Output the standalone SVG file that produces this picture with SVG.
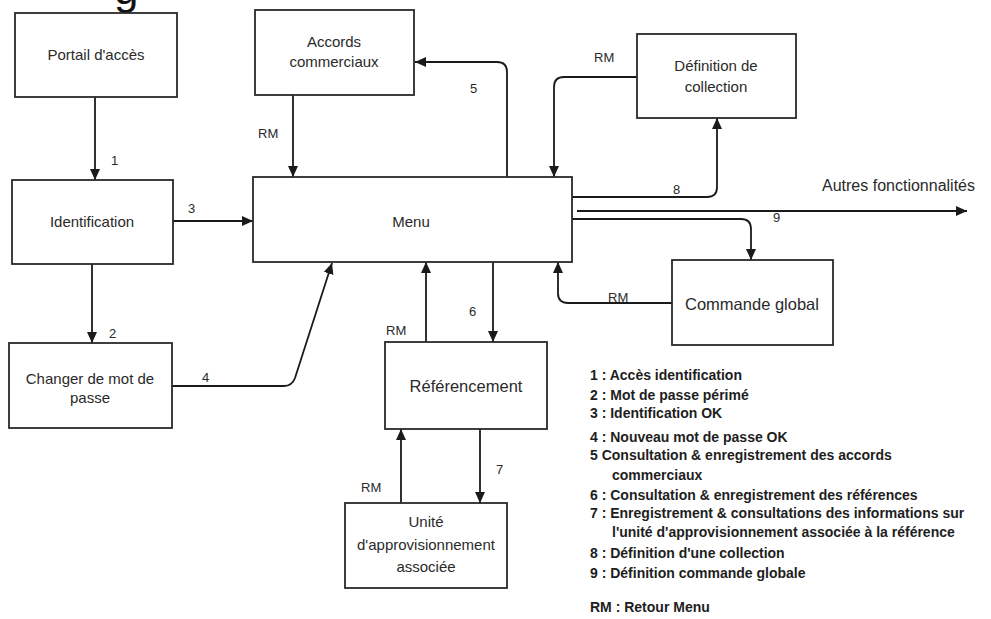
<svg xmlns="http://www.w3.org/2000/svg" width="991" height="619" viewBox="0 0 991 619">
<style>
.box{fill:#fff;stroke:#2a2a2a;stroke-width:1.8}
.t{font-family:"Liberation Sans",Arial,sans-serif;font-size:15px;fill:#2a2a2a;text-anchor:middle}
.lbl{font-family:"Liberation Sans",Arial,sans-serif;font-size:13px;fill:#2a2a2a}
.leg{font-family:"Liberation Sans",Arial,sans-serif;font-size:14px;font-weight:bold;fill:#1e1e1e}
.c{fill:none;stroke:#1a1a1a;stroke-width:1.8;marker-end:url(#ah)}
</style>
<defs>
<marker id="ah" markerUnits="userSpaceOnUse" markerWidth="12" markerHeight="12" refX="11" refY="5" orient="auto">
<path d="M0,0 L11,5 L0,10 z" fill="#1a1a1a"/>
</marker>
</defs>
<rect width="991" height="619" fill="#fff"/>
<text x="114" y="4" style="font-family:'Liberation Sans',Arial,sans-serif;font-size:44px;fill:#111">g</text>

<g id="connectors">
<path class="c" d="M95,97 V180"/>
<path class="c" d="M173,221 H253"/>
<path class="c" d="M92,264 V343"/>
<path class="c" d="M172,386 H284 Q292,386 295,378 L332,263"/>
<path class="c" d="M293,95 V177"/>
<path class="c" d="M507,177 V72 Q507,62 497,62 H415"/>
<path class="c" d="M637,77 H564 Q554,77 554,87 V177"/>
<path class="c" d="M572,197 H707 Q717,197 717,187 V118"/>
<path class="c" d="M577,211 H967"/>
<path class="c" d="M572,219 H741 Q751,219 751,229 V260"/>
<path class="c" d="M672,303 H568 Q558,303 558,293 V262"/>
<path class="c" d="M426,342 V262"/>
<path class="c" d="M493,262 V342"/>
<path class="c" d="M401,503 V429"/>
<path class="c" d="M480,429 V503"/>
</g>

<g id="portail"><rect class="box" x="15" y="13" width="162" height="84"/><text class="t" x="96" y="60">Portail d'accès</text></g>
<g id="identification"><rect class="box" x="12" y="180" width="161" height="84"/><text class="t" x="92" y="227">Identification</text></g>
<g id="changer"><rect class="box" x="9" y="343" width="163" height="85"/><text class="t" x="90" y="384">Changer de mot de</text><text class="t" x="90" y="403">passe</text></g>
<g id="accords"><rect class="box" x="255" y="10" width="159" height="85"/><text class="t" x="334" y="47">Accords</text><text class="t" x="334" y="67">commerciaux</text></g>
<g id="menu"><rect class="box" x="253" y="177" width="319" height="85"/><text class="t" x="411" y="227">Menu</text></g>
<g id="definition"><rect class="box" x="637" y="34" width="159" height="84"/><text class="t" x="716" y="71">Définition de</text><text class="t" x="716" y="92">collection</text></g>
<g id="commande"><rect class="box" x="672" y="260" width="161" height="85"/><text class="t" x="752" y="310" style="font-size:16.5px">Commande global</text></g>
<g id="referencement"><rect class="box" x="385" y="342" width="162" height="87"/><text class="t" x="466" y="392" style="font-size:16.5px">Référencement</text></g>
<g id="unite"><rect class="box" x="345" y="503" width="162" height="85"/><text class="t" x="426" y="527">Unité</text><text class="t" x="426" y="550">d'approvisionnement</text><text class="t" x="426" y="572">associée</text></g>

<g id="labels">
<text class="lbl" x="111" y="165">1</text>
<text class="lbl" x="188" y="213">3</text>
<text class="lbl" x="109" y="338">2</text>
<text class="lbl" x="202" y="382">4</text>
<text class="lbl" x="258" y="138">RM</text>
<text class="lbl" x="470" y="93">5</text>
<text class="lbl" x="594" y="62">RM</text>
<text class="lbl" x="673" y="194">8</text>
<text class="lbl" x="773" y="222">9</text>
<text class="lbl" x="822" y="191" style="font-size:16px">Autres fonctionnalités</text>
<text class="lbl" x="608" y="302">RM</text>
<text class="lbl" x="386" y="335">RM</text>
<text class="lbl" x="469" y="316">6</text>
<text class="lbl" x="361" y="492">RM</text>
<text class="lbl" x="496" y="474">7</text>
</g>

<g id="legend">
<text class="leg" x="590" y="380">1 : Accès identification</text>
<text class="leg" x="590" y="400">2 : Mot de passe périmé</text>
<text class="leg" x="590" y="418">3 : Identification OK</text>
<text class="leg" x="590" y="442">4 : Nouveau mot de passe OK</text>
<text class="leg" x="590" y="460">5 Consultation &amp; enregistrement des accords</text>
<text class="leg" x="612" y="480">commerciaux</text>
<text class="leg" x="590" y="500">6 : Consultation &amp; enregistrement des références</text>
<text class="leg" x="590" y="518">7 : Enregistrement &amp; consultations des informations sur</text>
<text class="leg" x="612" y="537">l'unité d'approvisionnement associée à la référence</text>
<text class="leg" x="590" y="558">8 : Définition d'une collection</text>
<text class="leg" x="590" y="578">9 : Définition commande globale</text>
<text class="leg" x="590" y="612">RM : Retour Menu</text>
</g>
</svg>
